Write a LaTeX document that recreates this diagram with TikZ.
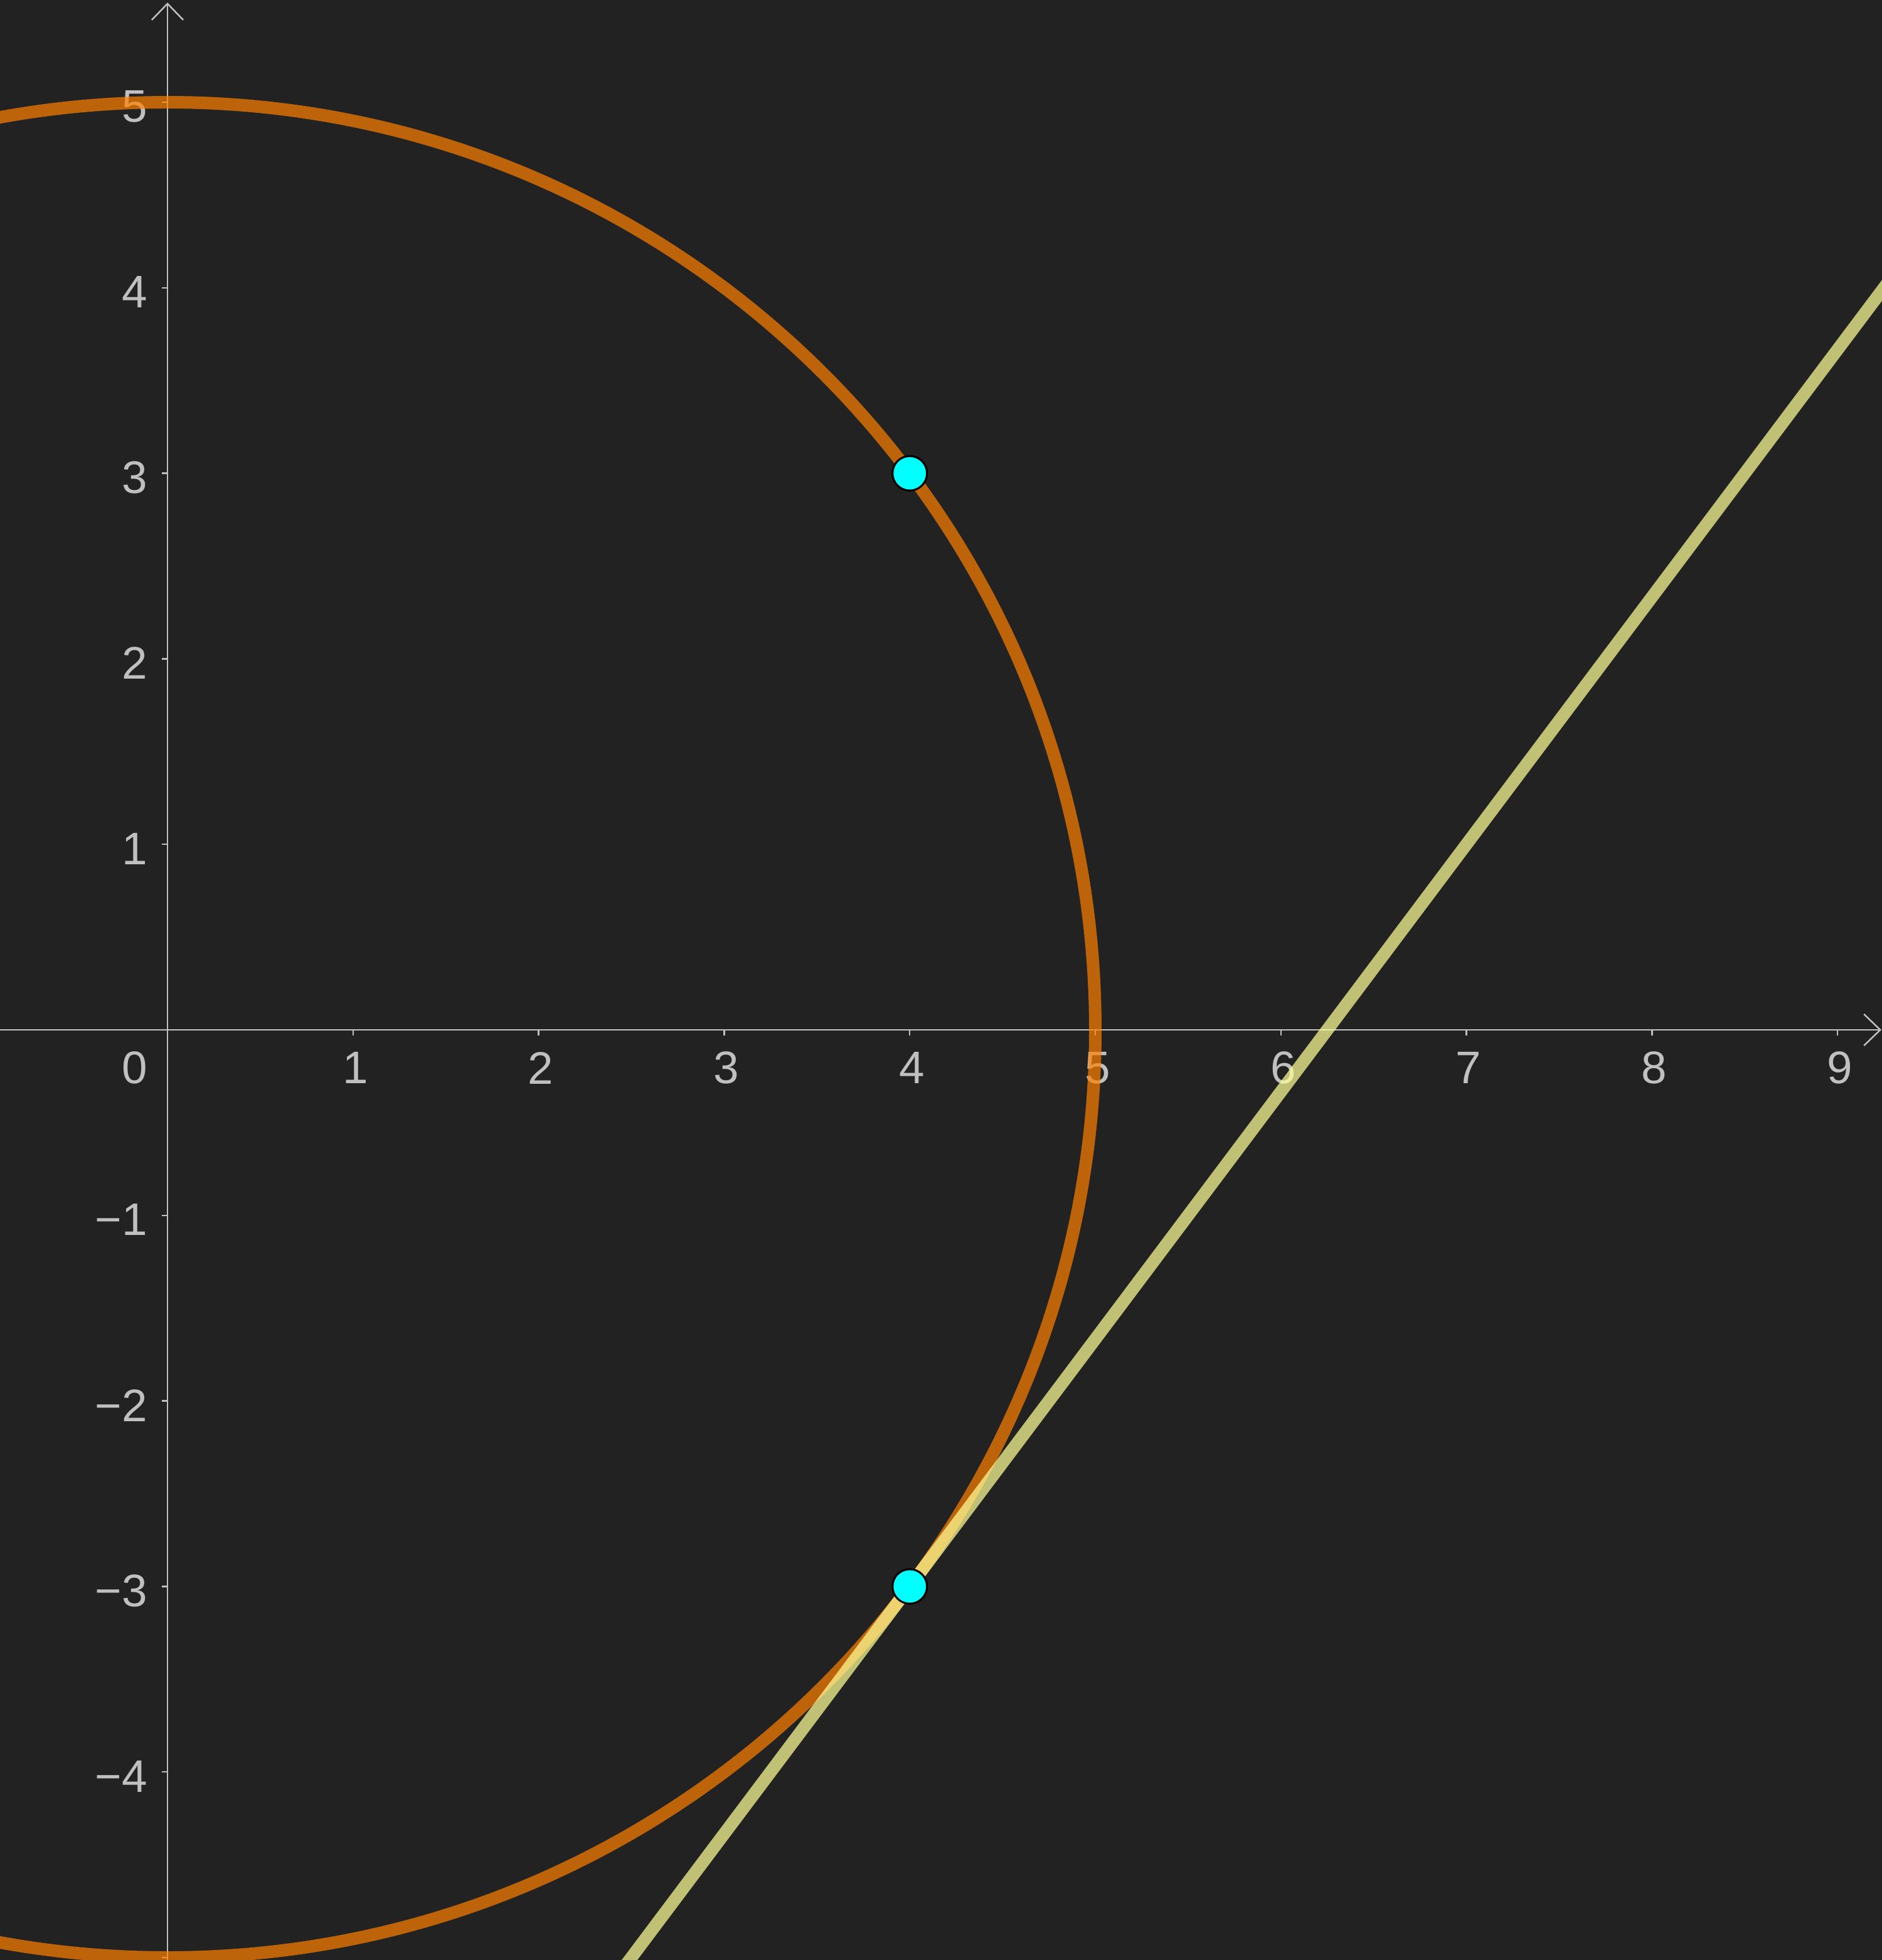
\documentclass[tikz,border=0pt]{standalone}
\usepackage{fontspec}
\setmainfont{Liberation Sans}
\usetikzlibrary{arrows.meta}
\definecolor{bg}{HTML}{222222}
\definecolor{axisgray}{HTML}{C0C0C0}
\definecolor{arcorange}{HTML}{FF8000}
\definecolor{tanyellow}{HTML}{FFFF96}
\definecolor{ptcyan}{HTML}{00FFFF}

\begin{document}
\begin{tikzpicture}[
  font=\fontsize{7}{8}\selectfont,
  ax/.style={draw=axisgray,line width=0.24pt},
  axarr/.style={ax,-{Straight Barb[length=0.88mm,width=1.7mm]}},
  tk/.style={draw=axisgray,line width=0.24pt},
  lbl/.style={text=axisgray,inner sep=0pt},
  crc/.style={draw=arcorange,draw opacity=0.7,line width=1.92pt},
  tng/.style={draw=tanyellow,draw opacity=0.72,line width=1.92pt},
  pt/.style={circle,draw=black,fill=ptcyan,line width=0.3pt,minimum size=1.86mm,inner sep=0pt}]
\fill[bg] (-0.9026,-5.0135) rectangle (9.239,5.551);
\useasboundingbox (-0.9026,-5.0135) rectangle (9.239,5.551);
\clip (-0.9026,-5.0135) rectangle (9.239,5.551);
% axes
\draw[axarr] (-1,0) -- (9.236,0);
\draw[axarr] (0,-5.2) -- (0,5.5375);
\foreach \x in {1,...,9} {
  \draw[tk] (\x,0) -- (\x,-0.03);
  \node[lbl] (xl\x) at (\x+0.012,-0.205) {\x};
}
\foreach \y in {-5,...,-1,1,2,...,5}
  \draw[tk] (0,\y) -- (-0.03,\y);
\foreach \y in {-4,...,-1}
  \node[lbl,anchor=east] (yl\y) at (-0.102,\y-0.024) {−\the\numexpr-\y\relax};
\foreach \y in {1,...,5}
  \node[lbl,anchor=east] (yl\y) at (-0.102,\y-0.024) {\y};
\node[lbl,anchor=east] (orig) at (-0.102,-0.205) {0};
% circle and tangent at (4,-3)
\draw[crc] (0,0) circle (5);
\draw[tng] (2,-17/3) -- (10,5);
\node[pt] (A) at (4,3) {};
\node[pt] (B) at (4,-3) {};
\end{tikzpicture}
\end{document}
